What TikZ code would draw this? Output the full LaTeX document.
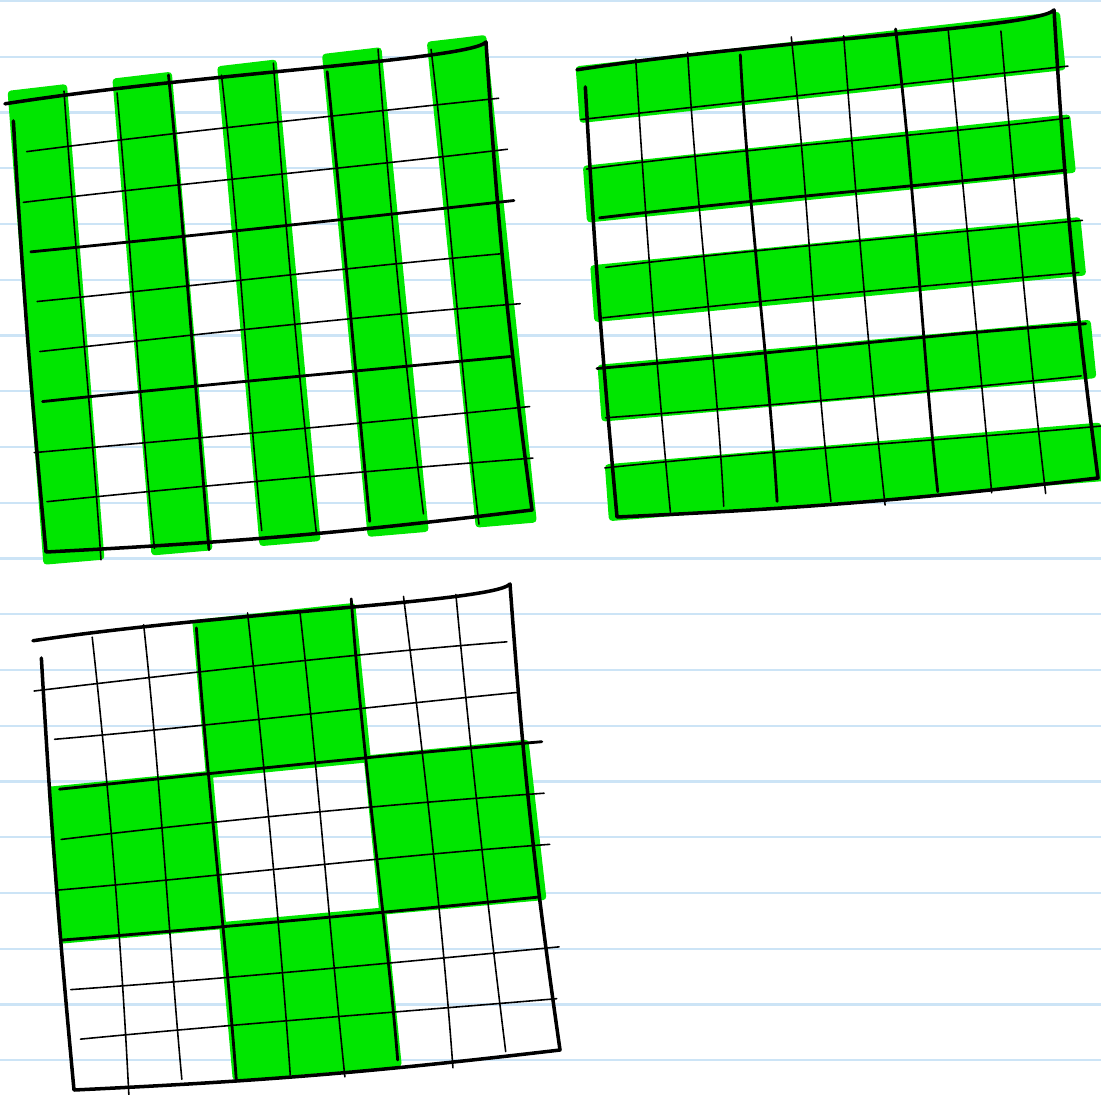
\documentclass[tikz,border=0pt]{standalone}
\usetikzlibrary{calc}
\definecolor{PaperLine}{RGB}{204,228,246}
\definecolor{MarkerGreen}{RGB}{0,230,0}

% 10x10 lattice of named points inside a four-corner frame
\newcommand{\gridpoints}[5]{%
  \foreach \i in {0,...,9}{%
    \coordinate (#1t\i) at ($#2!{\i/9}!#3$);
    \coordinate (#1b\i) at ($#4!{\i/9}!#5$);
    \foreach \j in {0,...,9}
      \coordinate (#1-\i-\j) at ($(#1t\i)!{\j/9}!(#1b\i)$);
  }%
  \coordinate (#1hook) at ($(#1-9-0)+(2,-6)$);
}
% hand drawn cell lines and outer frame
\newcommand{\gridlines}[1]{%
  \foreach \i in {1,...,8}{%
    \pgfmathsetmacro{\lw}{(\i==3||\i==6) ? 0.8 : 0.45}%
    \pgfmathsetmacro{\fromfrac}{0.02-0.05*rnd}%
    \pgfmathsetmacro{\tofrac}{0.985+0.045*rnd}%
    \pgfmathsetmacro{\wa}{10*rnd-5}%
    \pgfmathsetmacro{\wb}{10*rnd-5}%
    \draw[line width=\lw pt, line cap=round] ($(#1-\i-0)!\fromfrac!(#1-\i-9)$)
      .. controls ($(#1-\i-0)!0.35!(#1-\i-9)+(\wa,0)$) and ($(#1-\i-0)!0.7!(#1-\i-9)+(\wb,0)$)
      .. ($(#1-\i-0)!\tofrac!(#1-\i-9)$);
    \pgfmathsetmacro{\fromfrac}{0.025-0.05*rnd}%
    \pgfmathsetmacro{\tofrac}{0.985+0.06*rnd}%
    \pgfmathsetmacro{\wa}{8*rnd-4}%
    \pgfmathsetmacro{\wb}{8*rnd-4}%
    \draw[line width=\lw pt, line cap=round] ($(#1-0-\i)!\fromfrac!(#1-9-\i)$)
      .. controls ($(#1-0-\i)!0.35!(#1-9-\i)+(0,\wa)$) and ($(#1-0-\i)!0.7!(#1-9-\i)+(0,\wb)$)
      .. ($(#1-0-\i)!\tofrac!(#1-9-\i)$);
  }%
  \draw[frame] ($(#1-0-0)!-0.015!(#1-9-0)$)
    .. controls ($(#1-0-0)!0.4!(#1-9-0)+(0,-8)$) and ($(#1-9-0)+(-14,12)$) .. (#1hook)
    to[bend right=2] (#1-9-9)
    to[bend left=2] (#1-0-9)
    to[bend left=1] ($(#1-0-0)!0.04!(#1-0-9)$);
}

\begin{document}
\begin{tikzpicture}[x=0.01cm, y=-0.01cm,
    paper/.style={draw=PaperLine, line width=0.6pt},
    marker/.style={fill=MarkerGreen, draw=MarkerGreen, line width=2pt, line join=round},
    frame/.style={draw=black, line width=1pt, line join=round, line cap=round},
]
\fill[white] (0,0) rectangle (1101,1095);
\useasboundingbox (0,0) rectangle (1101,1095);
\foreach \k in {0,...,19}
  \draw[paper] (0,{1+55.75*\k}) -- (1101,{1+55.75*\k});

\pgfmathsetseed{11}
\gridpoints{cg}{(12,103)}{(484,48)}{(46,552)}{(532,510)}
\gridpoints{rg}{(584,69)}{(1052,16)}{(617,517)}{(1098,478)}
\gridpoints{bg}{(40,640)}{(508,590)}{(74,1090)}{(560,1050)}

% highlighted columns, rows and boxes
\foreach \c [evaluate=\c as \d using int(\c+1)] in {0,2,4,6,8}
  \filldraw[marker] ($(cg-\c-0)!-0.02!(cg-\c-9)$) -- ($(cg-\d-0)!-0.02!(cg-\d-9)$)
    -- ($(cg-\d-0)!1.02!(cg-\d-9)$) -- ($(cg-\c-0)!1.02!(cg-\c-9)$) -- cycle;
\foreach \r [evaluate=\r as \s using int(\r+1)] in {0,2,4,6,8}
  \filldraw[marker] ($(rg-0-\r)!-0.01!(rg-9-\r)$) -- ($(rg-0-\r)!1.01!(rg-9-\r)$)
    -- ($(rg-0-\s)!1.01!(rg-9-\s)$) -- ($(rg-0-\s)!-0.01!(rg-9-\s)$) -- cycle;
\foreach \c/\r in {3/0,0/3,6/3,3/6}{
  \pgfmathtruncatemacro{\cc}{\c+3}
  \pgfmathtruncatemacro{\rr}{\r+3}
  \filldraw[marker] (bg-\c-\r) -- (bg-\cc-\r) -- (bg-\cc-\rr) -- (bg-\c-\rr) -- cycle;
}

\gridlines{cg}
\gridlines{rg}
\gridlines{bg}
\end{tikzpicture}
\end{document}
